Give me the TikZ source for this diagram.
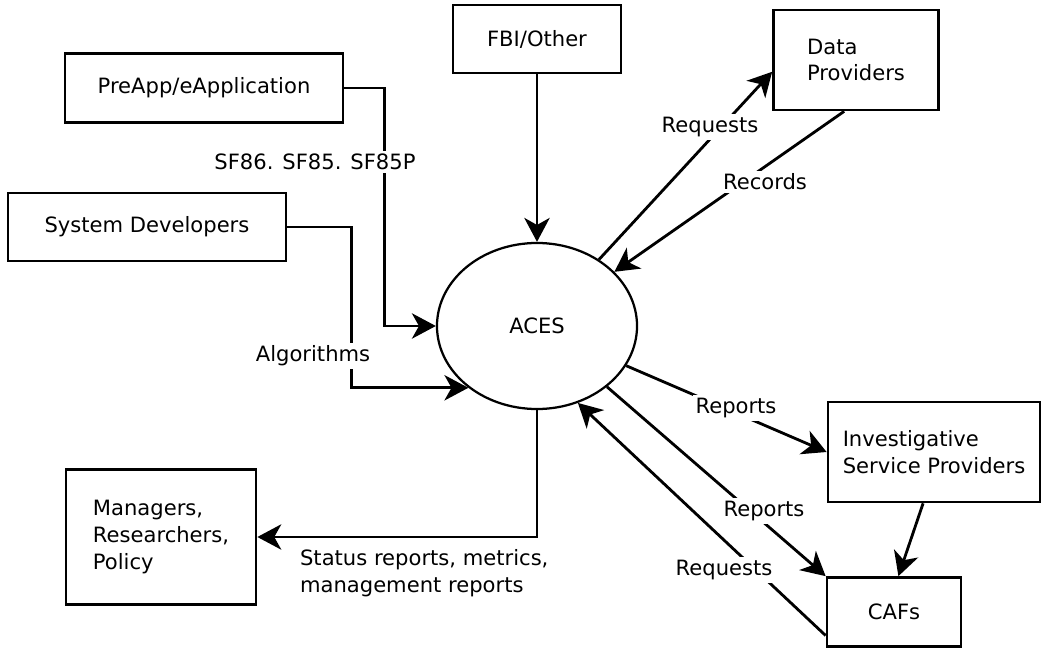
\documentclass[tikz,border=0pt]{standalone}
\usepackage{fontspec}
\setmainfont{DejaVu Sans}
\usepackage{tikz}
\usetikzlibrary{shapes,arrows.meta}
\tikzstyle{node_box} = [rectangle, draw, line width=1.9pt, align=left, inner sep=0pt]
\tikzstyle{node_process} = [ellipse, draw, line width=1.6pt, minimum width=5cm, minimum height=4.15cm]
\tikzstyle{edge_flow} = [line width=2pt, arrows={-Stealth[length=17pt, width=18pt, inset=5pt]}]
\tikzstyle{edge_label} = [fill=white, inner sep=2pt]

\begin{document}
\begin{tikzpicture}[x=0.025cm, y=-0.025cm, font=\fontsize{15}{19}\selectfont]
			\useasboundingbox (0,0) rectangle (1045,649);

			\node (ACES) at (537,326) [node_process] {ACES};
			\node (PRE) at (204,88) [node_box, minimum width=6.95cm, minimum height=1.725cm] {PreApp/eApplication};
			\node (SYS) at (147,227) [node_box, minimum width=6.95cm, minimum height=1.7cm] {System Developers};
			\node (FBI) at (537,39) [node_box, minimum width=4.2cm, minimum height=1.7cm] {FBI/Other};
			\node (DAT) at (856,60) [node_box, minimum width=4.125cm, minimum height=2.5cm] {Data\\Providers};
			\node (ISP) at (934,452) [node_box, minimum width=5.3cm, minimum height=2.5cm] {Investigative\\Service Providers};
			\node (CAF) at (894,612) [node_box, minimum width=3.35cm, minimum height=1.725cm] {CAFs};
			\node (MGR) at (161,537) [node_box, minimum width=4.75cm, minimum height=3.375cm] {Managers,\\Researchers,\\Policy};

			\draw[edge_flow] (PRE.east) -- ++(40,0) |- (ACES.west);
			\draw[edge_flow] (SYS.east) -- ++(64,0) |- (ACES.222);
			\draw[edge_flow] (FBI.south) -- (ACES.north);
			\draw[edge_flow] (ACES.47) -- (DAT.188);
			\draw[edge_flow] (DAT.257) -- (ACES.35);
			\draw[edge_flow] (ACES.-24) -- (ISP.west);
			\draw[edge_flow] (ACES.-41) -- (CAF.north west);
			\draw[edge_flow] (CAF.199) -- (ACES.-62);
			\draw[edge_flow] (ISP.258) -- (CAF.83);
			\draw[edge_flow] (ACES.south) |- (MGR.east);

			\node (L1) at (315,162) [edge_label] {SF86. SF85. SF85P};
			\node (L2) at (313,356) [edge_label] {Algorithms};
			\node (L3) at (710,127) [edge_label] {Requests};
			\node (L4) at (765,182) [edge_label] {Records};
			\node (L5) at (736,408) [edge_label] {Reports};
			\node (L6) at (764,511) [edge_label] {Reports};
			\node (L7) at (724,570) [edge_label] {Requests};
			\node (L8) at (297,573) [anchor=west, align=left, inner sep=2pt] {Status reports, metrics,\\management reports};
		\end{tikzpicture}
\end{document}
